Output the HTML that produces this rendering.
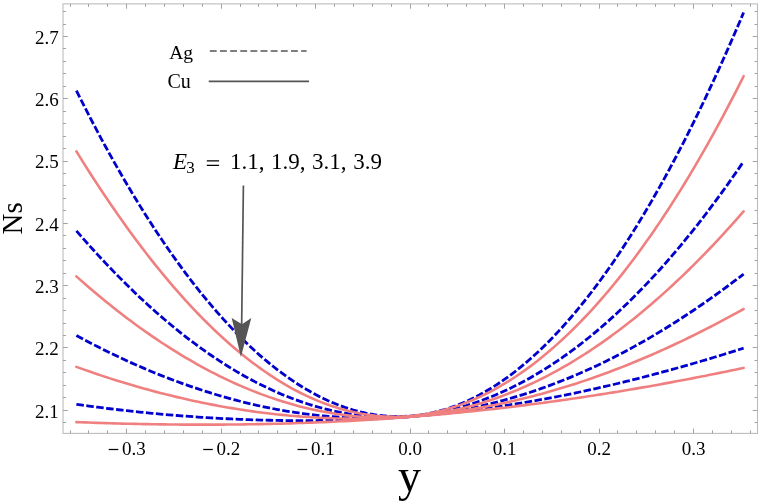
<!DOCTYPE html>
<html><head><meta charset="utf-8"><style>
html,body{margin:0;padding:0;background:#fff;}
body{width:762px;height:503px;overflow:hidden;}
svg{display:block;will-change:transform;}
text{font-family:"Liberation Serif",serif;fill:#000;}
.tl{font-size:19px;}
</style></head><body>
<svg width="762" height="503" viewBox="0 0 762 503">
<rect x="63.0" y="3.9" width="694.50" height="429.50" fill="none" stroke="#bcbcbc" stroke-width="1.1"/>
<path d="M70.50,433.4 v-3.0 M70.50,3.9 v3.0 M88.50,433.4 v-3.0 M88.50,3.9 v3.0 M107.50,433.4 v-3.0 M107.50,3.9 v3.0 M126.50,433.4 v-4.8 M126.50,3.9 v4.8 M145.50,433.4 v-3.0 M145.50,3.9 v3.0 M164.50,433.4 v-3.0 M164.50,3.9 v3.0 M183.50,433.4 v-3.0 M183.50,3.9 v3.0 M202.50,433.4 v-3.0 M202.50,3.9 v3.0 M221.50,433.4 v-4.8 M221.50,3.9 v4.8 M240.50,433.4 v-3.0 M240.50,3.9 v3.0 M258.50,433.4 v-3.0 M258.50,3.9 v3.0 M277.50,433.4 v-3.0 M277.50,3.9 v3.0 M296.50,433.4 v-3.0 M296.50,3.9 v3.0 M315.50,433.4 v-4.8 M315.50,3.9 v4.8 M334.50,433.4 v-3.0 M334.50,3.9 v3.0 M353.50,433.4 v-3.0 M353.50,3.9 v3.0 M372.50,433.4 v-3.0 M372.50,3.9 v3.0 M391.50,433.4 v-3.0 M391.50,3.9 v3.0 M410.50,433.4 v-4.8 M410.50,3.9 v4.8 M428.50,433.4 v-3.0 M428.50,3.9 v3.0 M447.50,433.4 v-3.0 M447.50,3.9 v3.0 M466.50,433.4 v-3.0 M466.50,3.9 v3.0 M485.50,433.4 v-3.0 M485.50,3.9 v3.0 M504.50,433.4 v-4.8 M504.50,3.9 v4.8 M523.50,433.4 v-3.0 M523.50,3.9 v3.0 M542.50,433.4 v-3.0 M542.50,3.9 v3.0 M561.50,433.4 v-3.0 M561.50,3.9 v3.0 M580.50,433.4 v-3.0 M580.50,3.9 v3.0 M599.50,433.4 v-4.8 M599.50,3.9 v4.8 M617.50,433.4 v-3.0 M617.50,3.9 v3.0 M636.50,433.4 v-3.0 M636.50,3.9 v3.0 M655.50,433.4 v-3.0 M655.50,3.9 v3.0 M674.50,433.4 v-3.0 M674.50,3.9 v3.0 M693.50,433.4 v-4.8 M693.50,3.9 v4.8 M712.50,433.4 v-3.0 M712.50,3.9 v3.0 M731.50,433.4 v-3.0 M731.50,3.9 v3.0 M750.50,433.4 v-3.0 M750.50,3.9 v3.0 M63.0,422.50 h3.0 M757.5,422.50 h-3.0 M63.0,410.50 h4.8 M757.5,410.50 h-4.8 M63.0,397.50 h3.0 M757.5,397.50 h-3.0 M63.0,385.50 h3.0 M757.5,385.50 h-3.0 M63.0,372.50 h3.0 M757.5,372.50 h-3.0 M63.0,360.50 h3.0 M757.5,360.50 h-3.0 M63.0,347.50 h4.8 M757.5,347.50 h-4.8 M63.0,335.50 h3.0 M757.5,335.50 h-3.0 M63.0,323.50 h3.0 M757.5,323.50 h-3.0 M63.0,310.50 h3.0 M757.5,310.50 h-3.0 M63.0,298.50 h3.0 M757.5,298.50 h-3.0 M63.0,285.50 h4.8 M757.5,285.50 h-4.8 M63.0,273.50 h3.0 M757.5,273.50 h-3.0 M63.0,260.50 h3.0 M757.5,260.50 h-3.0 M63.0,248.50 h3.0 M757.5,248.50 h-3.0 M63.0,235.50 h3.0 M757.5,235.50 h-3.0 M63.0,223.50 h4.8 M757.5,223.50 h-4.8 M63.0,210.50 h3.0 M757.5,210.50 h-3.0 M63.0,198.50 h3.0 M757.5,198.50 h-3.0 M63.0,185.50 h3.0 M757.5,185.50 h-3.0 M63.0,173.50 h3.0 M757.5,173.50 h-3.0 M63.0,161.50 h4.8 M757.5,161.50 h-4.8 M63.0,148.50 h3.0 M757.5,148.50 h-3.0 M63.0,136.50 h3.0 M757.5,136.50 h-3.0 M63.0,123.50 h3.0 M757.5,123.50 h-3.0 M63.0,111.50 h3.0 M757.5,111.50 h-3.0 M63.0,98.50 h4.8 M757.5,98.50 h-4.8 M63.0,86.50 h3.0 M757.5,86.50 h-3.0 M63.0,73.50 h3.0 M757.5,73.50 h-3.0 M63.0,61.50 h3.0 M757.5,61.50 h-3.0 M63.0,48.50 h3.0 M757.5,48.50 h-3.0 M63.0,36.50 h4.8 M757.5,36.50 h-4.8 M63.0,24.50 h3.0 M757.5,24.50 h-3.0 M63.0,11.50 h3.0 M757.5,11.50 h-3.0" stroke="#a2a2a2" stroke-width="1" fill="none"/>
<path d="M76.40,90.60 L80.60,98.99 L84.79,107.27 L88.99,115.44 L93.18,123.50 L97.38,131.45 L101.58,139.29 L105.77,147.02 L109.97,154.63 L114.17,162.14 L118.36,169.54 L122.56,176.83 L126.75,184.00 L130.95,191.07 L135.15,198.03 L139.34,204.88 L143.54,211.62 L147.74,218.26 L151.93,224.78 L156.13,231.20 L160.32,237.50 L164.52,243.70 L168.72,249.79 L172.91,255.77 L177.11,261.64 L181.31,267.41 L185.50,273.06 L189.70,278.61 L193.89,284.05 L198.09,289.38 L202.29,294.60 L206.48,299.71 L210.68,304.72 L214.88,309.62 L219.07,314.41 L223.27,319.09 L227.46,323.66 L231.66,328.12 L235.86,332.48 L240.05,336.73 L244.25,340.87 L248.45,344.89 L252.64,348.82 L256.84,352.63 L261.03,356.33 L265.23,359.92 L269.43,363.41 L273.62,366.78 L277.82,370.05 L282.02,373.21 L286.21,376.25 L290.41,379.19 L294.60,382.02 L298.80,384.73 L303.00,387.34 L307.19,389.84 L311.39,392.22 L315.58,394.50 L319.78,396.66 L323.98,398.72 L328.17,400.66 L332.37,402.49 L336.57,404.21 L340.76,405.82 L344.96,407.32 L349.15,408.70 L353.35,409.98 L357.55,411.14 L361.74,412.18 L365.94,413.12 L370.14,413.94 L374.33,414.65 L378.53,415.25 L382.72,415.73 L386.92,416.10 L391.12,416.35 L395.31,416.50 L399.51,416.52 L403.71,416.43 L407.90,416.23 L412.10,415.91 L416.29,415.48 L420.49,414.93 L424.69,414.27 L428.88,413.49 L433.08,412.60 L437.28,411.59 L441.47,410.46 L445.67,409.22 L449.86,407.86 L454.06,406.38 L458.26,404.78 L462.45,403.07 L466.65,401.24 L470.85,399.30 L475.04,397.23 L479.24,395.05 L483.43,392.75 L487.63,390.33 L491.83,387.79 L496.02,385.13 L500.22,382.35 L504.42,379.45 L508.61,376.44 L512.81,373.30 L517.00,370.05 L521.20,366.67 L525.40,363.17 L529.59,359.56 L533.79,355.82 L537.98,351.96 L542.18,347.98 L546.38,343.88 L550.57,339.66 L554.77,335.32 L558.97,330.85 L563.16,326.27 L567.36,321.56 L571.55,316.73 L575.75,311.78 L579.95,306.70 L584.14,301.50 L588.34,296.18 L592.54,290.74 L596.73,285.18 L600.93,279.49 L605.12,273.68 L609.32,267.74 L613.52,261.68 L617.71,255.50 L621.91,249.20 L626.11,242.77 L630.30,236.22 L634.50,229.54 L638.69,222.75 L642.89,215.82 L647.09,208.78 L651.28,201.61 L655.48,194.31 L659.68,186.90 L663.87,179.35 L668.07,171.69 L672.26,163.90 L676.46,155.99 L680.66,147.95 L684.85,139.79 L689.05,131.50 L693.25,123.09 L697.44,114.56 L701.64,105.91 L705.83,97.13 L710.03,88.22 L714.23,79.20 L718.42,70.05 L722.62,60.77 L726.82,51.38 L731.01,41.86 L735.21,32.21 L739.40,22.45 L743.60,12.56" fill="none" stroke="#0000cc" stroke-width="2.8" stroke-dasharray="7.5 2.5"/>
<path d="M76.40,230.84 L80.60,235.66 L84.79,240.42 L88.99,245.12 L93.18,249.77 L97.38,254.36 L101.58,258.88 L105.77,263.35 L109.97,267.75 L114.17,272.10 L118.36,276.39 L122.56,280.61 L126.75,284.78 L130.95,288.88 L135.15,292.92 L139.34,296.90 L143.54,300.82 L147.74,304.68 L151.93,308.48 L156.13,312.21 L160.32,315.88 L164.52,319.49 L168.72,323.03 L172.91,326.51 L177.11,329.93 L181.31,333.29 L185.50,336.58 L189.70,339.81 L193.89,342.97 L198.09,346.08 L202.29,349.11 L206.48,352.08 L210.68,354.99 L214.88,357.84 L219.07,360.61 L223.27,363.33 L227.46,365.98 L231.66,368.56 L235.86,371.08 L240.05,373.53 L244.25,375.92 L248.45,378.24 L252.64,380.50 L256.84,382.68 L261.03,384.81 L265.23,386.86 L269.43,388.85 L273.62,390.78 L277.82,392.64 L282.02,394.43 L286.21,396.15 L290.41,397.81 L294.60,399.40 L298.80,400.92 L303.00,402.37 L307.19,403.76 L311.39,405.08 L315.58,406.33 L319.78,407.52 L323.98,408.63 L328.17,409.68 L332.37,410.66 L336.57,411.57 L340.76,412.42 L344.96,413.19 L349.15,413.90 L353.35,414.54 L357.55,415.10 L361.74,415.61 L365.94,416.04 L370.14,416.40 L374.33,416.69 L378.53,416.92 L382.72,417.07 L386.92,417.16 L391.12,417.17 L395.31,417.12 L399.51,417.00 L403.71,416.80 L407.90,416.54 L412.10,416.21 L416.29,415.81 L420.49,415.33 L424.69,414.79 L428.88,414.18 L433.08,413.49 L437.28,412.74 L441.47,411.92 L445.67,411.02 L449.86,410.05 L454.06,409.02 L458.26,407.91 L462.45,406.73 L466.65,405.48 L470.85,404.16 L475.04,402.77 L479.24,401.31 L483.43,399.77 L487.63,398.17 L491.83,396.49 L496.02,394.74 L500.22,392.92 L504.42,391.03 L508.61,389.07 L512.81,387.03 L517.00,384.92 L521.20,382.74 L525.40,380.49 L529.59,378.17 L533.79,375.77 L537.98,373.30 L542.18,370.76 L546.38,368.14 L550.57,365.46 L554.77,362.70 L558.97,359.86 L563.16,356.96 L567.36,353.98 L571.55,350.93 L575.75,347.80 L579.95,344.60 L584.14,341.33 L588.34,337.98 L592.54,334.56 L596.73,331.07 L600.93,327.50 L605.12,323.86 L609.32,320.15 L613.52,316.36 L617.71,312.49 L621.91,308.55 L626.11,304.54 L630.30,300.45 L634.50,296.29 L638.69,292.05 L642.89,287.74 L647.09,283.35 L651.28,278.89 L655.48,274.35 L659.68,269.74 L663.87,265.05 L668.07,260.29 L672.26,255.45 L676.46,250.53 L680.66,245.54 L684.85,240.47 L689.05,235.33 L693.25,230.10 L697.44,224.81 L701.64,219.43 L705.83,213.98 L710.03,208.45 L714.23,202.84 L718.42,197.16 L722.62,191.40 L726.82,185.56 L731.01,179.65 L735.21,173.65 L739.40,167.58 L743.60,161.43" fill="none" stroke="#0000cc" stroke-width="2.8" stroke-dasharray="7.5 2.5"/>
<path d="M76.40,335.55 L80.60,337.81 L84.79,340.04 L88.99,342.24 L93.18,344.41 L97.38,346.55 L101.58,348.66 L105.77,350.75 L109.97,352.80 L114.17,354.82 L118.36,356.82 L122.56,358.78 L126.75,360.72 L130.95,362.62 L135.15,364.50 L139.34,366.34 L143.54,368.15 L147.74,369.94 L151.93,371.69 L156.13,373.41 L160.32,375.10 L164.52,376.76 L168.72,378.39 L172.91,379.99 L177.11,381.55 L181.31,383.09 L185.50,384.59 L189.70,386.07 L193.89,387.51 L198.09,388.92 L202.29,390.29 L206.48,391.64 L210.68,392.95 L214.88,394.23 L219.07,395.48 L223.27,396.70 L227.46,397.89 L231.66,399.04 L235.86,400.16 L240.05,401.24 L244.25,402.30 L248.45,403.32 L252.64,404.31 L256.84,405.26 L261.03,406.19 L265.23,407.08 L269.43,407.93 L273.62,408.75 L277.82,409.54 L282.02,410.30 L286.21,411.02 L290.41,411.71 L294.60,412.36 L298.80,412.98 L303.00,413.57 L307.19,414.12 L311.39,414.63 L315.58,415.12 L319.78,415.57 L323.98,415.98 L328.17,416.36 L332.37,416.70 L336.57,417.01 L340.76,417.29 L344.96,417.53 L349.15,417.73 L353.35,417.90 L357.55,418.04 L361.74,418.14 L365.94,418.20 L370.14,418.23 L374.33,418.22 L378.53,418.18 L382.72,418.10 L386.92,417.99 L391.12,417.84 L395.31,417.66 L399.51,417.44 L403.71,417.18 L407.90,416.89 L412.10,416.56 L416.29,416.19 L420.49,415.79 L424.69,415.35 L428.88,414.88 L433.08,414.37 L437.28,413.82 L441.47,413.24 L445.67,412.62 L449.86,411.96 L454.06,411.27 L458.26,410.54 L462.45,409.78 L466.65,408.97 L470.85,408.13 L475.04,407.26 L479.24,406.34 L483.43,405.39 L487.63,404.40 L491.83,403.38 L496.02,402.32 L500.22,401.22 L504.42,400.08 L508.61,398.91 L512.81,397.70 L517.00,396.45 L521.20,395.17 L525.40,393.85 L529.59,392.49 L533.79,391.09 L537.98,389.66 L542.18,388.19 L546.38,386.68 L550.57,385.13 L554.77,383.55 L558.97,381.93 L563.16,380.27 L567.36,378.58 L571.55,376.84 L575.75,375.08 L579.95,373.27 L584.14,371.42 L588.34,369.54 L592.54,367.62 L596.73,365.67 L600.93,363.68 L605.12,361.65 L609.32,359.58 L613.52,357.47 L617.71,355.33 L621.91,353.15 L626.11,350.94 L630.30,348.68 L634.50,346.39 L638.69,344.07 L642.89,341.70 L647.09,339.30 L651.28,336.86 L655.48,334.39 L659.68,331.88 L663.87,329.33 L668.07,326.74 L672.26,324.12 L676.46,321.47 L680.66,318.77 L684.85,316.04 L689.05,313.27 L693.25,310.47 L697.44,307.63 L701.64,304.76 L705.83,301.85 L710.03,298.90 L714.23,295.92 L718.42,292.90 L722.62,289.84 L726.82,286.75 L731.01,283.63 L735.21,280.47 L739.40,277.27 L743.60,274.04" fill="none" stroke="#0000cc" stroke-width="2.8" stroke-dasharray="7.5 2.5"/>
<path d="M76.40,404.34 L80.60,404.93 L84.79,405.51 L88.99,406.08 L93.18,406.63 L97.38,407.18 L101.58,407.71 L105.77,408.23 L109.97,408.75 L114.17,409.25 L118.36,409.74 L122.56,410.22 L126.75,410.69 L130.95,411.15 L135.15,411.60 L139.34,412.04 L143.54,412.47 L147.74,412.89 L151.93,413.29 L156.13,413.69 L160.32,414.07 L164.52,414.45 L168.72,414.81 L172.91,415.16 L177.11,415.51 L181.31,415.84 L185.50,416.16 L189.70,416.47 L193.89,416.77 L198.09,417.06 L202.29,417.33 L206.48,417.60 L210.68,417.86 L214.88,418.10 L219.07,418.33 L223.27,418.56 L227.46,418.77 L231.66,418.97 L235.86,419.16 L240.05,419.34 L244.25,419.50 L248.45,419.66 L252.64,419.80 L256.84,419.93 L261.03,420.06 L265.23,420.17 L269.43,420.26 L273.62,420.35 L277.82,420.42 L282.02,420.49 L286.21,420.54 L290.41,420.58 L294.60,420.61 L298.80,420.62 L303.00,420.63 L307.19,420.62 L311.39,420.60 L315.58,420.57 L319.78,420.52 L323.98,420.46 L328.17,420.39 L332.37,420.31 L336.57,420.22 L340.76,420.11 L344.96,419.99 L349.15,419.86 L353.35,419.72 L357.55,419.56 L361.74,419.39 L365.94,419.21 L370.14,419.01 L374.33,418.80 L378.53,418.58 L382.72,418.35 L386.92,418.10 L391.12,417.84 L395.31,417.57 L399.51,417.28 L403.71,416.98 L407.90,416.67 L412.10,416.34 L416.29,416.00 L420.49,415.65 L424.69,415.28 L428.88,414.90 L433.08,414.50 L437.28,414.10 L441.47,413.67 L445.67,413.24 L449.86,412.79 L454.06,412.33 L458.26,411.85 L462.45,411.36 L466.65,410.86 L470.85,410.34 L475.04,409.81 L479.24,409.26 L483.43,408.70 L487.63,408.13 L491.83,407.54 L496.02,406.94 L500.22,406.33 L504.42,405.70 L508.61,405.05 L512.81,404.40 L517.00,403.73 L521.20,403.04 L525.40,402.34 L529.59,401.63 L533.79,400.90 L537.98,400.16 L542.18,399.41 L546.38,398.64 L550.57,397.86 L554.77,397.06 L558.97,396.25 L563.16,395.43 L567.36,394.60 L571.55,393.74 L575.75,392.88 L579.95,392.00 L584.14,391.11 L588.34,390.21 L592.54,389.29 L596.73,388.36 L600.93,387.41 L605.12,386.46 L609.32,385.49 L613.52,384.50 L617.71,383.51 L621.91,382.50 L626.11,381.48 L630.30,380.44 L634.50,379.39 L638.69,378.33 L642.89,377.26 L647.09,376.18 L651.28,375.08 L655.48,373.97 L659.68,372.85 L663.87,371.72 L668.07,370.58 L672.26,369.42 L676.46,368.25 L680.66,367.08 L684.85,365.89 L689.05,364.69 L693.25,363.48 L697.44,362.26 L701.64,361.03 L705.83,359.79 L710.03,358.54 L714.23,357.27 L718.42,356.00 L722.62,354.72 L726.82,353.44 L731.01,352.14 L735.21,350.83 L739.40,349.52 L743.60,348.19" fill="none" stroke="#0000cc" stroke-width="2.8" stroke-dasharray="7.5 2.5"/>
<path d="M76.40,151.41 L80.60,158.17 L84.79,164.85 L88.99,171.44 L93.18,177.96 L97.38,184.40 L101.58,190.76 L105.77,197.03 L109.97,203.23 L114.17,209.34 L118.36,215.37 L122.56,221.32 L126.75,227.18 L130.95,232.96 L135.15,238.65 L139.34,244.26 L143.54,249.79 L147.74,255.23 L151.93,260.59 L156.13,265.85 L160.32,271.04 L164.52,276.13 L168.72,281.14 L172.91,286.07 L177.11,290.90 L181.31,295.65 L185.50,300.31 L189.70,304.88 L193.89,309.36 L198.09,313.75 L202.29,318.06 L206.48,322.27 L210.68,326.40 L214.88,330.44 L219.07,334.38 L223.27,338.24 L227.46,342.00 L231.66,345.68 L235.86,349.26 L240.05,352.75 L244.25,356.16 L248.45,359.47 L252.64,362.69 L256.84,365.81 L261.03,368.85 L265.23,371.79 L269.43,374.64 L273.62,377.40 L277.82,380.07 L282.02,382.64 L286.21,385.12 L290.41,387.51 L294.60,389.81 L298.80,392.01 L303.00,394.12 L307.19,396.13 L311.39,398.05 L315.58,399.88 L319.78,401.62 L323.98,403.26 L328.17,404.80 L332.37,406.25 L336.57,407.61 L340.76,408.88 L344.96,410.04 L349.15,411.12 L353.35,412.10 L357.55,412.98 L361.74,413.78 L365.94,414.47 L370.14,415.07 L374.33,415.58 L378.53,415.99 L382.72,416.31 L386.92,416.53 L391.12,416.65 L395.31,416.68 L399.51,416.62 L403.71,416.46 L407.90,416.20 L412.10,415.85 L416.29,415.40 L420.49,414.86 L424.69,414.22 L428.88,413.48 L433.08,412.65 L437.28,411.72 L441.47,410.70 L445.67,409.58 L449.86,408.36 L454.06,407.05 L458.26,405.64 L462.45,404.13 L466.65,402.53 L470.85,400.83 L475.04,399.03 L479.24,397.14 L483.43,395.15 L487.63,393.06 L491.83,390.88 L496.02,388.60 L500.22,386.22 L504.42,383.74 L508.61,381.17 L512.81,378.50 L517.00,375.73 L521.20,372.86 L525.40,369.90 L529.59,366.83 L533.79,363.67 L537.98,360.41 L542.18,357.05 L546.38,353.60 L550.57,350.04 L554.77,346.38 L558.97,342.63 L563.16,338.78 L567.36,334.83 L571.55,330.77 L575.75,326.62 L579.95,322.37 L584.14,318.02 L588.34,313.57 L592.54,309.02 L596.73,304.36 L600.93,299.61 L605.12,294.75 L609.32,289.80 L613.52,284.74 L617.71,279.58 L621.91,274.32 L626.11,268.96 L630.30,263.50 L634.50,257.93 L638.69,252.26 L642.89,246.49 L647.09,240.61 L651.28,234.63 L655.48,228.55 L659.68,222.36 L663.87,216.07 L668.07,209.67 L672.26,203.17 L676.46,196.56 L680.66,189.85 L684.85,183.03 L689.05,176.10 L693.25,169.07 L697.44,161.93 L701.64,154.69 L705.83,147.33 L710.03,139.87 L714.23,132.30 L718.42,124.62 L722.62,116.83 L726.82,108.93 L731.01,100.92 L735.21,92.80 L739.40,84.57 L743.60,76.23" fill="none" stroke="#f08080" stroke-width="2.6" stroke-linecap="round"/>
<path d="M76.40,276.38 L80.60,280.11 L84.79,283.79 L88.99,287.42 L93.18,291.00 L97.38,294.54 L101.58,298.03 L105.77,301.46 L109.97,304.86 L114.17,308.20 L118.36,311.49 L122.56,314.73 L126.75,317.93 L130.95,321.08 L135.15,324.18 L139.34,327.23 L143.54,330.23 L147.74,333.18 L151.93,336.08 L156.13,338.94 L160.32,341.74 L164.52,344.50 L168.72,347.20 L172.91,349.86 L177.11,352.47 L181.31,355.02 L185.50,357.53 L189.70,359.99 L193.89,362.40 L198.09,364.76 L202.29,367.07 L206.48,369.32 L210.68,371.53 L214.88,373.69 L219.07,375.80 L223.27,377.86 L227.46,379.86 L231.66,381.82 L235.86,383.73 L240.05,385.58 L244.25,387.38 L248.45,389.14 L252.64,390.84 L256.84,392.49 L261.03,394.09 L265.23,395.63 L269.43,397.13 L273.62,398.57 L277.82,399.97 L282.02,401.31 L286.21,402.59 L290.41,403.83 L294.60,405.01 L298.80,406.14 L303.00,407.22 L307.19,408.25 L311.39,409.22 L315.58,410.14 L319.78,411.01 L323.98,411.83 L328.17,412.59 L332.37,413.29 L336.57,413.95 L340.76,414.55 L344.96,415.10 L349.15,415.59 L353.35,416.03 L357.55,416.42 L361.74,416.75 L365.94,417.03 L370.14,417.25 L374.33,417.42 L378.53,417.53 L382.72,417.59 L386.92,417.60 L391.12,417.55 L395.31,417.44 L399.51,417.28 L403.71,417.07 L407.90,416.80 L412.10,416.47 L416.29,416.09 L420.49,415.66 L424.69,415.16 L428.88,414.62 L433.08,414.01 L437.28,413.35 L441.47,412.64 L445.67,411.87 L449.86,411.04 L454.06,410.15 L458.26,409.21 L462.45,408.22 L466.65,407.16 L470.85,406.05 L475.04,404.89 L479.24,403.67 L483.43,402.39 L487.63,401.05 L491.83,399.66 L496.02,398.21 L500.22,396.70 L504.42,395.13 L508.61,393.51 L512.81,391.83 L517.00,390.10 L521.20,388.30 L525.40,386.45 L529.59,384.54 L533.79,382.58 L537.98,380.56 L542.18,378.48 L546.38,376.34 L550.57,374.14 L554.77,371.89 L558.97,369.58 L563.16,367.21 L567.36,364.79 L571.55,362.30 L575.75,359.76 L579.95,357.17 L584.14,354.51 L588.34,351.80 L592.54,349.03 L596.73,346.20 L600.93,343.31 L605.12,340.37 L609.32,337.37 L613.52,334.31 L617.71,331.19 L621.91,328.02 L626.11,324.79 L630.30,321.50 L634.50,318.16 L638.69,314.75 L642.89,311.29 L647.09,307.78 L651.28,304.20 L655.48,300.57 L659.68,296.89 L663.87,293.14 L668.07,289.34 L672.26,285.48 L676.46,281.57 L680.66,277.60 L684.85,273.57 L689.05,269.49 L693.25,265.35 L697.44,261.16 L701.64,256.91 L705.83,252.60 L710.03,248.24 L714.23,243.82 L718.42,239.35 L722.62,234.82 L726.82,230.24 L731.01,225.60 L735.21,220.91 L739.40,216.17 L743.60,211.37" fill="none" stroke="#f08080" stroke-width="2.6" stroke-linecap="round"/>
<path d="M76.40,366.86 L80.60,368.38 L84.79,369.87 L88.99,371.35 L93.18,372.80 L97.38,374.23 L101.58,375.63 L105.77,377.02 L109.97,378.38 L114.17,379.72 L118.36,381.03 L122.56,382.33 L126.75,383.60 L130.95,384.85 L135.15,386.07 L139.34,387.28 L143.54,388.46 L147.74,389.62 L151.93,390.76 L156.13,391.87 L160.32,392.97 L164.52,394.04 L168.72,395.09 L172.91,396.11 L177.11,397.12 L181.31,398.10 L185.50,399.06 L189.70,400.00 L193.89,400.91 L198.09,401.80 L202.29,402.67 L206.48,403.52 L210.68,404.35 L214.88,405.15 L219.07,405.93 L223.27,406.69 L227.46,407.42 L231.66,408.14 L235.86,408.83 L240.05,409.49 L244.25,410.14 L248.45,410.76 L252.64,411.36 L256.84,411.93 L261.03,412.49 L265.23,413.02 L269.43,413.52 L273.62,414.01 L277.82,414.47 L282.02,414.90 L286.21,415.32 L290.41,415.71 L294.60,416.07 L298.80,416.41 L303.00,416.73 L307.19,417.03 L311.39,417.30 L315.58,417.55 L319.78,417.77 L323.98,417.97 L328.17,418.15 L332.37,418.30 L336.57,418.43 L340.76,418.53 L344.96,418.61 L349.15,418.67 L353.35,418.70 L357.55,418.70 L361.74,418.68 L365.94,418.64 L370.14,418.57 L374.33,418.48 L378.53,418.36 L382.72,418.21 L386.92,418.05 L391.12,417.85 L395.31,417.63 L399.51,417.39 L403.71,417.12 L407.90,416.83 L412.10,416.51 L416.29,416.16 L420.49,415.79 L424.69,415.39 L428.88,414.97 L433.08,414.52 L437.28,414.05 L441.47,413.55 L445.67,413.02 L449.86,412.47 L454.06,411.89 L458.26,411.29 L462.45,410.65 L466.65,410.00 L470.85,409.32 L475.04,408.61 L479.24,407.87 L483.43,407.11 L487.63,406.32 L491.83,405.51 L496.02,404.66 L500.22,403.80 L504.42,402.90 L508.61,401.98 L512.81,401.04 L517.00,400.06 L521.20,399.06 L525.40,398.03 L529.59,396.98 L533.79,395.90 L537.98,394.79 L542.18,393.66 L546.38,392.50 L550.57,391.31 L554.77,390.10 L558.97,388.86 L563.16,387.60 L567.36,386.30 L571.55,384.98 L575.75,383.64 L579.95,382.27 L584.14,380.87 L588.34,379.44 L592.54,377.99 L596.73,376.51 L600.93,375.01 L605.12,373.48 L609.32,371.92 L613.52,370.34 L617.71,368.73 L621.91,367.10 L626.11,365.44 L630.30,363.76 L634.50,362.05 L638.69,360.31 L642.89,358.55 L647.09,356.76 L651.28,354.95 L655.48,353.11 L659.68,351.25 L663.87,349.36 L668.07,347.45 L672.26,345.51 L676.46,343.55 L680.66,341.57 L684.85,339.56 L689.05,337.52 L693.25,335.47 L697.44,333.39 L701.64,331.28 L705.83,329.15 L710.03,327.00 L714.23,324.83 L718.42,322.63 L722.62,320.42 L726.82,318.18 L731.01,315.91 L735.21,313.63 L739.40,311.32 L743.60,308.99" fill="none" stroke="#f08080" stroke-width="2.6" stroke-linecap="round"/>
<path d="M76.40,422.10 L80.60,422.27 L84.79,422.42 L88.99,422.57 L93.18,422.72 L97.38,422.86 L101.58,423.00 L105.77,423.13 L109.97,423.26 L114.17,423.38 L118.36,423.49 L122.56,423.60 L126.75,423.71 L130.95,423.81 L135.15,423.90 L139.34,423.99 L143.54,424.08 L147.74,424.16 L151.93,424.23 L156.13,424.30 L160.32,424.36 L164.52,424.41 L168.72,424.46 L172.91,424.51 L177.11,424.55 L181.31,424.58 L185.50,424.61 L189.70,424.63 L193.89,424.65 L198.09,424.66 L202.29,424.66 L206.48,424.66 L210.68,424.65 L214.88,424.64 L219.07,424.62 L223.27,424.60 L227.46,424.56 L231.66,424.53 L235.86,424.48 L240.05,424.43 L244.25,424.38 L248.45,424.32 L252.64,424.25 L256.84,424.17 L261.03,424.09 L265.23,424.00 L269.43,423.91 L273.62,423.81 L277.82,423.70 L282.02,423.59 L286.21,423.47 L290.41,423.34 L294.60,423.21 L298.80,423.07 L303.00,422.93 L307.19,422.77 L311.39,422.61 L315.58,422.45 L319.78,422.28 L323.98,422.10 L328.17,421.91 L332.37,421.72 L336.57,421.52 L340.76,421.31 L344.96,421.10 L349.15,420.88 L353.35,420.65 L357.55,420.41 L361.74,420.17 L365.94,419.92 L370.14,419.67 L374.33,419.41 L378.53,419.14 L382.72,418.86 L386.92,418.58 L391.12,418.28 L395.31,417.99 L399.51,417.68 L403.71,417.37 L407.90,417.05 L412.10,416.72 L416.29,416.39 L420.49,416.05 L424.69,415.70 L428.88,415.34 L433.08,414.98 L437.28,414.61 L441.47,414.23 L445.67,413.84 L449.86,413.45 L454.06,413.05 L458.26,412.64 L462.45,412.23 L466.65,411.81 L470.85,411.38 L475.04,410.94 L479.24,410.49 L483.43,410.04 L487.63,409.58 L491.83,409.12 L496.02,408.64 L500.22,408.16 L504.42,407.67 L508.61,407.17 L512.81,406.67 L517.00,406.16 L521.20,405.64 L525.40,405.11 L529.59,404.58 L533.79,404.04 L537.98,403.49 L542.18,402.93 L546.38,402.37 L550.57,401.80 L554.77,401.22 L558.97,400.64 L563.16,400.04 L567.36,399.44 L571.55,398.83 L575.75,398.22 L579.95,397.60 L584.14,396.97 L588.34,396.33 L592.54,395.69 L596.73,395.04 L600.93,394.38 L605.12,393.71 L609.32,393.04 L613.52,392.36 L617.71,391.67 L621.91,390.98 L626.11,390.28 L630.30,389.57 L634.50,388.85 L638.69,388.13 L642.89,387.40 L647.09,386.66 L651.28,385.92 L655.48,385.17 L659.68,384.42 L663.87,383.65 L668.07,382.88 L672.26,382.11 L676.46,381.32 L680.66,380.53 L684.85,379.74 L689.05,378.93 L693.25,378.12 L697.44,377.31 L701.64,376.49 L705.83,375.66 L710.03,374.82 L714.23,373.98 L718.42,373.14 L722.62,372.28 L726.82,371.43 L731.01,370.56 L735.21,369.69 L739.40,368.81 L743.60,367.93" fill="none" stroke="#f08080" stroke-width="2.6" stroke-linecap="round"/>
<text x="122.0" y="454.5" class="tl">0.3</text>
<path d="M108.7,449.5 H118.3" stroke="#000" stroke-width="1.25"/>
<text x="216.5" y="454.5" class="tl">0.2</text>
<path d="M203.2,449.5 H212.8" stroke="#000" stroke-width="1.25"/>
<text x="310.9" y="454.5" class="tl">0.1</text>
<path d="M297.6,449.5 H307.2" stroke="#000" stroke-width="1.25"/>
<text x="410.1" y="454.5" text-anchor="middle" class="tl">0.0</text>
<text x="504.6" y="454.5" text-anchor="middle" class="tl">0.1</text>
<text x="599.0" y="454.5" text-anchor="middle" class="tl">0.2</text>
<text x="693.5" y="454.5" text-anchor="middle" class="tl">0.3</text>
<text x="58.8" y="417.5" text-anchor="end" class="tl">2.1</text>
<text x="58.8" y="355.2" text-anchor="end" class="tl">2.2</text>
<text x="58.8" y="292.9" text-anchor="end" class="tl">2.3</text>
<text x="58.8" y="230.7" text-anchor="end" class="tl">2.4</text>
<text x="58.8" y="168.4" text-anchor="end" class="tl">2.5</text>
<text x="58.8" y="106.1" text-anchor="end" class="tl">2.6</text>
<text x="58.8" y="43.8" text-anchor="end" class="tl">2.7</text>
<text x="169.2" y="58.9" style="font-size:19.6px">Ag</text>
<path d="M209.8,51 H306.6" stroke="#555" stroke-width="1.7" stroke-dasharray="6.9 3.25"/>
<text x="167.5" y="88" style="font-size:20px">Cu</text>
<path d="M208.7,81.4 H309" stroke="#555" stroke-width="1.7"/>
<text x="172.9" y="169" style="font-size:23px;font-style:italic">E</text>
<text x="186.3" y="172.6" style="font-size:17px">3</text>
<path d="M206.8,160.8 H219.1 M206.8,165.3 H219.1" stroke="#000" stroke-width="1.2"/>
<text x="230" y="169" style="font-size:23px">1.1,</text><text x="271" y="169" style="font-size:23px">1.9,</text><text x="312" y="169" style="font-size:23px">3.1,</text><text x="353.2" y="169" style="font-size:23px">3.9</text>
<path d="M243.4,185.4 L241.6,330" stroke="#555" stroke-width="1.7" fill="none"/>
<path d="M240.9,357 L231.7,317.9 L242,324.3 L251.3,317.9 Z" fill="#555"/>
<text transform="translate(22,234.5) rotate(-90)" x="0" y="0" style="font-size:29px">Ns</text>
<text x="409.5" y="491" text-anchor="middle" style="font-size:46px">y</text>
</svg>
</body></html>
